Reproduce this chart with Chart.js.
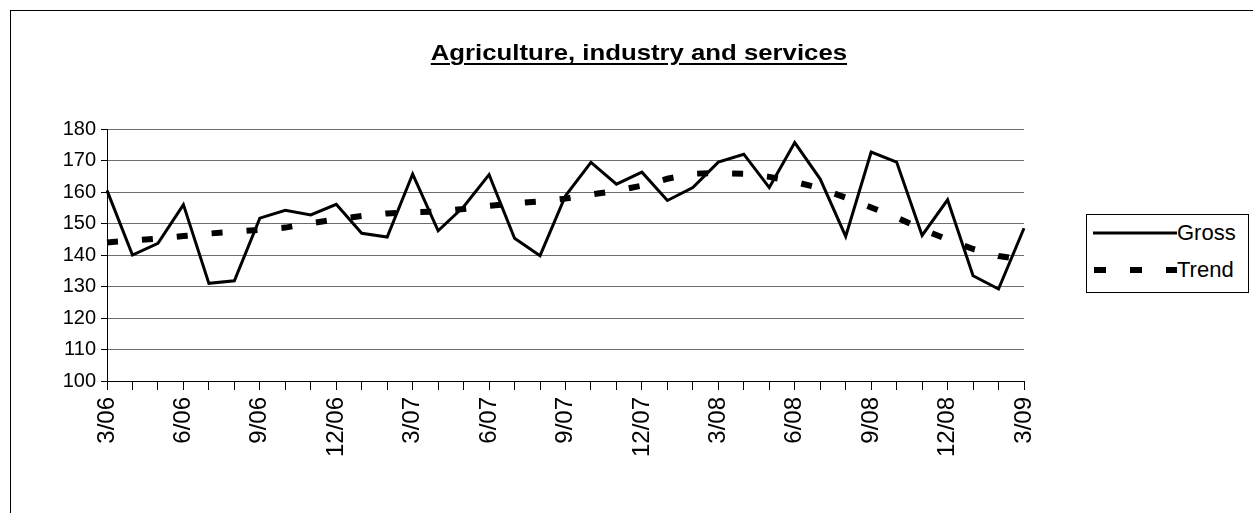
<!DOCTYPE html>
<html>
<head>
<meta charset="utf-8">
<script src="https://cdn.jsdelivr.net/npm/chart.js@4/dist/chart.umd.min.js"></script>
<style>
  html, body { margin:0; padding:0; background:#fff; }
  #wrap { position:relative; width:1253px; height:513px; overflow:hidden; font-family:"Liberation Sans", Arial, sans-serif; }
  #frame { position:absolute; left:10px; top:10px; width:1300px; height:600px; border-left:1px solid #000; border-top:1px solid #000; }
  #title { position:absolute; left:0; width:1278px; top:40px; text-align:center; font-weight:bold; font-size:22px; color:#000; }
  #title span { display:inline-block; transform:scaleX(1.17); transform-origin:center; text-decoration:underline; text-underline-offset:3px; }
  #legend { position:absolute; left:1086px; top:214px; width:161px; height:77px; border:1px solid #000; background:#fff; }
  .row { position:absolute; left:0; height:30px; }
  .row span { position:absolute; left:90px; font-size:22px; line-height:22px; top:-11px; color:#000; white-space:nowrap; }
  canvas { position:absolute; left:0; top:0; }
</style>
</head>
<body>
<div id="wrap">
  <div id="frame"></div>
  <canvas id="c" width="1253" height="513"></canvas>
  <div id="title"><span>Agriculture, industry and services</span></div>
  <div id="legend"></div>
</div>
<script>
const categories = ['3/06','4/06','5/06','6/06','7/06','8/06','9/06','10/06','11/06','12/06','1/07','2/07',
  '3/07','4/07','5/07','6/07','7/07','8/07','9/07','10/07','11/07','12/07','1/08','2/08',
  '3/08','4/08','5/08','6/08','7/08','8/08','9/08','10/08','11/08','12/08','1/09','2/09','3/09'];
const tickLabels = ['3/06','6/06','9/06','12/06','3/07','6/07','9/07','12/07','3/08','6/08','9/08','12/08','3/09'];
const gross = [160.5,140,143.7,156,131,131.8,151.7,154.2,152.7,156.1,146.9,145.7,
  165.7,147.7,155.3,165.5,145.3,139.8,158.8,169.4,162.5,166.3,157.3,161.4,
  169.5,172,161.4,175.7,164.1,145.9,172.7,169.5,146.2,157.5,133.4,129.2,148.5];
const trend = [144,144.6,145.2,146,146.8,147.4,148,148.7,150.1,151.3,152.4,153.2,
  153.6,153.8,154.6,155.6,156.4,157,157.9,159.2,160.4,162,164.2,165.8,
  166,165.8,164.8,163.2,161.2,158.2,155.1,151.9,148.2,144.9,141.9,139.7,138.5];
const yTicks = [100,110,120,130,140,150,160,170,180];
const seriesNames = ['Gross','Trend'];

const FONT = "'Liberation Sans', Arial, sans-serif";

new Chart(document.getElementById('c'), {
  type: 'line',
  data: {
    labels: categories,
    datasets: [
      { label: seriesNames[0], data: gross, borderColor:'#000', borderWidth:3, pointRadius:0, tension:0, fill:false, borderJoinStyle:'miter' },
      { label: seriesNames[1], data: trend, borderColor:'#000', borderWidth:6, borderDash:[11,24], borderCapStyle:'butt', pointRadius:0, tension:0, fill:false }
    ]
  },
  options: {
    responsive:false, animation:false,
    layout: { padding: { left:0, top:129, right:229, bottom:0 } },
    plugins: { legend:{ display:false }, title:{ display:false }, tooltip:{ enabled:false } },
    scales: {
      x: {
        offset:false,
        grid: { drawOnChartArea:false, drawTicks:true, tickLength:9, color:'#000' },
        border: { color:'#000', width:1 },
        ticks: {
          autoSkip:false, maxRotation:90, minRotation:90, padding:7,
          color:'#000', font:{ family:FONT, size:24 },
          callback: function(v, i) { const l = categories[i]; return tickLabels.includes(l) ? l : ''; }
        },
        afterFit: s => { s.height = 132; }
      },
      y: {
        min:100, max:180,
        afterBuildTicks: s => { s.ticks = yTicks.map(v => ({ value:v })); },
        grid: { color:'#6e6e6e', lineWidth:1, tickLength:6, tickColor:'#000', drawTicks:true },
        border: { color:'#000', width:1 },
        ticks: { color:'#000', padding:5, font:{ family:FONT, size:20 } },
        afterFit: s => { s.width = 107; }
      }
    }
  }
});

// legend
const lg = document.getElementById('legend');
const rows = [{ y:18, dash:false }, { y:55, dash:true }];
seriesNames.forEach((n, i) => {
  const r = rows[i];
  const d = document.createElement('div');
  d.className = 'row';
  d.style.top = r.y + 'px';
  d.innerHTML = '<svg width="84" height="10" style="position:absolute;left:6px;top:-5px">' +
    (r.dash ? '<line x1="1" y1="5" x2="84" y2="5" stroke="#000" stroke-width="6" stroke-dasharray="12,24"/>'
            : '<line x1="0" y1="5" x2="84" y2="5" stroke="#000" stroke-width="3"/>') +
    '</svg><span>' + n + '</span>';
  lg.appendChild(d);
});
</script>
</body>
</html>
